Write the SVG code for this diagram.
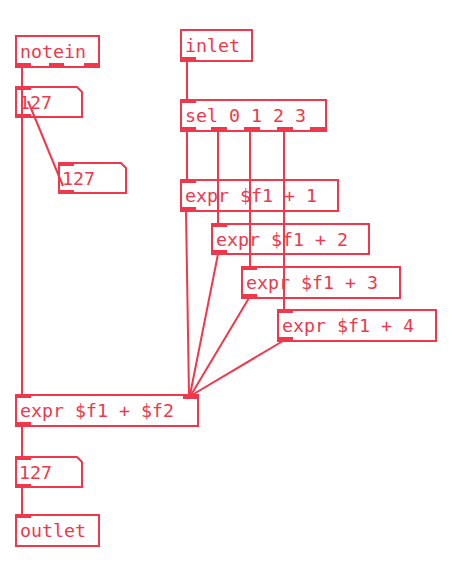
<svg xmlns="http://www.w3.org/2000/svg" width="454" height="566" viewBox="0 0 454 566">
<style>
.b{fill:none;stroke:#f0384c;stroke-width:2}
.io{fill:#f0384c}
.c{stroke:#f0384c;stroke-width:2;fill:none}
text{font-family:"DejaVu Sans Mono","Liberation Mono",monospace;font-size:18.3px;fill:#f0384c}
</style>
<rect width="454" height="566" fill="#fff"/>
<g id="notein">
<rect class="b" x="16" y="36" width="83" height="31"/>
<text x="20" y="58">notein</text>
<rect class="io" x="16" y="63" width="15" height="4"/>
<rect class="io" x="49" y="63" width="15" height="4"/>
<rect class="io" x="84" y="63" width="15" height="4"/>
</g>
<g id="atom1">
<polygon class="b" points="16,87 77,87 82,92 82,117 16,117"/>
<text x="19" y="109">127</text>
<rect class="io" x="16" y="87" width="15" height="3"/>
<rect class="io" x="16" y="114" width="15" height="3"/>
</g>
<g id="atom2">
<polygon class="b" points="59,163 121,163 126,168 126,193 59,193"/>
<text x="62" y="185">127</text>
<rect class="io" x="59" y="163" width="15" height="3"/>
<rect class="io" x="59" y="190" width="15" height="3"/>
</g>
<g id="inlet">
<rect class="b" x="181" y="30" width="71" height="31"/>
<text x="185" y="52">inlet</text>
<rect class="io" x="181" y="57" width="15" height="4"/>
</g>
<g id="sel">
<rect class="b" x="181" y="100" width="145" height="31"/>
<text x="185" y="122">sel 0 1 2 3</text>
<rect class="io" x="181" y="100" width="15" height="3"/>
<rect class="io" x="181" y="127" width="15" height="4"/>
<rect class="io" x="211" y="127" width="16" height="4"/>
<rect class="io" x="244" y="127" width="16" height="4"/>
<rect class="io" x="277" y="127" width="16" height="4"/>
<rect class="io" x="310" y="127" width="16" height="4"/>
</g>
<g id="expr1">
<rect class="b" x="181" y="180" width="157" height="31"/>
<text x="185" y="202">expr $f1 + 1</text>
<rect class="io" x="181" y="180" width="15" height="3"/>
<rect class="io" x="181" y="207" width="15" height="4"/>
</g>
<g id="expr2">
<rect class="b" x="212" y="224" width="157" height="30"/>
<text x="216" y="246">expr $f1 + 2</text>
<rect class="io" x="212" y="224" width="15" height="3"/>
<rect class="io" x="212" y="250" width="15" height="4"/>
</g>
<g id="expr3">
<rect class="b" x="242" y="267" width="158" height="31"/>
<text x="246" y="289">expr $f1 + 3</text>
<rect class="io" x="242" y="267" width="15" height="3"/>
<rect class="io" x="242" y="294" width="15" height="4"/>
</g>
<g id="expr4">
<rect class="b" x="278" y="310" width="158" height="31"/>
<text x="282" y="332">expr $f1 + 4</text>
<rect class="io" x="278" y="310" width="15" height="3"/>
<rect class="io" x="278" y="337" width="15" height="4"/>
</g>
<g id="exprsum">
<rect class="b" x="16" y="395" width="182" height="31"/>
<text x="20" y="417">expr $f1 + $f2</text>
<rect class="io" x="16" y="395" width="15" height="3"/>
<rect class="io" x="183" y="395" width="15" height="4"/>
<rect class="io" x="16" y="422" width="15" height="4"/>
</g>
<g id="atom3">
<polygon class="b" points="16,457 77,457 82,462 82,487 16,487"/>
<text x="19" y="479">127</text>
<rect class="io" x="16" y="457" width="15" height="3"/>
<rect class="io" x="16" y="484" width="15" height="3"/>
</g>
<g id="outlet">
<rect class="b" x="16" y="515" width="83" height="31"/>
<text x="20" y="537">outlet</text>
<rect class="io" x="16" y="515" width="15" height="3"/>
</g>
<g id="connectors">
<line class="c" x1="22" y1="67" x2="22" y2="395"/>
<line class="c" x1="28" y1="101" x2="63" y2="186"/>
<line class="c" x1="187" y1="61" x2="187" y2="100"/>
<line class="c" x1="187" y1="131" x2="187" y2="180"/>
<line class="c" x1="218" y1="131" x2="218" y2="224"/>
<line class="c" x1="250" y1="131" x2="250" y2="267"/>
<line class="c" x1="284" y1="131" x2="284" y2="310"/>
<line class="c" x1="186" y1="211" x2="189" y2="395"/>
<line class="c" x1="218" y1="254" x2="190" y2="395"/>
<line class="c" x1="249" y1="298" x2="191" y2="395"/>
<line class="c" x1="283" y1="341" x2="192" y2="395"/>
<line class="c" x1="22" y1="426" x2="22" y2="457"/>
<line class="c" x1="22" y1="487" x2="22" y2="515"/>
</g>
</svg>
